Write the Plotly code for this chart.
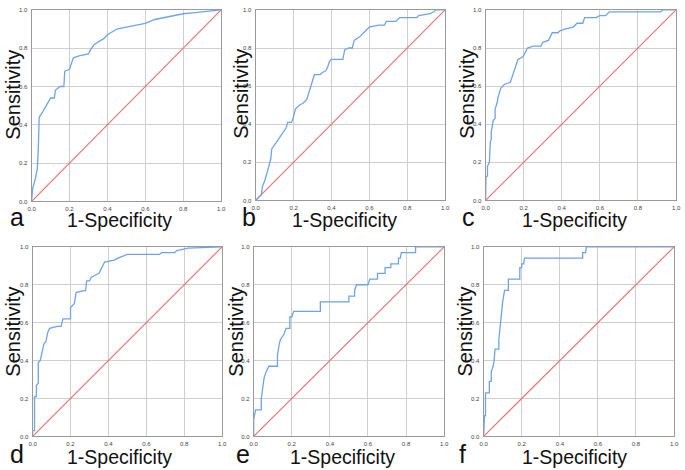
import plotly.graph_objects as go

# ROC curve data (1-Specificity, Sensitivity)
a_fpr = [0, 0.005, 0.02, 0.03, 0.035, 0.04, 0.04, 0.06, 0.09, 0.10, 0.12, 0.125, 0.15, 0.17, 0.175, 0.20, 0.22, 0.25, 0.30, 0.31, 0.33, 0.36, 0.38, 0.40, 0.45, 0.50, 0.55, 0.60, 0.65, 0.70, 0.75, 0.80, 0.85, 0.90, 0.95, 1.0]
a_tpr = [0, 0.065, 0.12, 0.17, 0.27, 0.37, 0.44, 0.47, 0.52, 0.54, 0.54, 0.58, 0.60, 0.60, 0.68, 0.69, 0.75, 0.76, 0.77, 0.79, 0.82, 0.84, 0.85, 0.87, 0.90, 0.91, 0.92, 0.93, 0.95, 0.96, 0.97, 0.98, 0.985, 0.99, 0.995, 1.0]

b_fpr = [0, 0.03, 0.035, 0.05, 0.07, 0.08, 0.085, 0.10, 0.12, 0.14, 0.16, 0.17, 0.19, 0.20, 0.21, 0.23, 0.25, 0.27, 0.28, 0.29, 0.30, 0.31, 0.34, 0.35, 0.37, 0.38, 0.39, 0.40, 0.46, 0.47, 0.49, 0.51, 0.52, 0.55, 0.57, 0.59, 0.60, 0.65, 0.68, 0.69, 0.74, 0.76, 0.85, 0.86, 0.92, 0.94, 0.95, 1.0]
b_tpr = [0, 0.03, 0.07, 0.11, 0.18, 0.22, 0.27, 0.29, 0.32, 0.35, 0.38, 0.41, 0.41, 0.44, 0.48, 0.50, 0.51, 0.53, 0.56, 0.60, 0.63, 0.66, 0.66, 0.67, 0.68, 0.70, 0.73, 0.74, 0.74, 0.79, 0.80, 0.80, 0.84, 0.86, 0.88, 0.90, 0.91, 0.92, 0.92, 0.94, 0.94, 0.96, 0.96, 0.97, 0.98, 0.99, 1.0, 1.0]

c_fpr = [0, 0.002, 0.01, 0.01, 0.02, 0.025, 0.03, 0.03, 0.04, 0.05, 0.05, 0.06, 0.065, 0.07, 0.08, 0.09, 0.10, 0.13, 0.14, 0.15, 0.16, 0.17, 0.19, 0.20, 0.21, 0.22, 0.25, 0.29, 0.30, 0.33, 0.34, 0.35, 0.38, 0.39, 0.42, 0.46, 0.48, 0.51, 0.52, 0.58, 0.60, 0.63, 0.65, 0.92, 0.93, 1.0]
c_tpr = [0, 0.12, 0.13, 0.18, 0.20, 0.31, 0.32, 0.36, 0.42, 0.43, 0.48, 0.51, 0.54, 0.56, 0.59, 0.60, 0.61, 0.62, 0.65, 0.69, 0.71, 0.74, 0.75, 0.76, 0.78, 0.80, 0.81, 0.81, 0.83, 0.84, 0.86, 0.88, 0.88, 0.89, 0.90, 0.91, 0.93, 0.93, 0.96, 0.96, 0.97, 0.97, 0.99, 0.99, 1.0, 1.0]

d_fpr = [0, 0.0, 0.01, 0.01, 0.02, 0.02, 0.03, 0.03, 0.04, 0.05, 0.06, 0.07, 0.08, 0.09, 0.13, 0.15, 0.16, 0.20, 0.20, 0.22, 0.23, 0.28, 0.285, 0.30, 0.31, 0.33, 0.35, 0.36, 0.37, 0.38, 0.43, 0.45, 0.50, 0.67, 0.68, 0.75, 0.76, 0.80, 0.82, 1.0]
d_tpr = [0, 0.03, 0.03, 0.21, 0.21, 0.27, 0.28, 0.39, 0.40, 0.45, 0.49, 0.50, 0.55, 0.57, 0.58, 0.58, 0.62, 0.62, 0.68, 0.70, 0.76, 0.77, 0.82, 0.82, 0.84, 0.85, 0.86, 0.88, 0.90, 0.92, 0.93, 0.94, 0.96, 0.96, 0.97, 0.97, 0.98, 0.99, 0.993, 1.0]

e_fpr = [0, 0.0, 0.01, 0.04, 0.04, 0.045, 0.05, 0.055, 0.065, 0.08, 0.125, 0.125, 0.135, 0.14, 0.16, 0.17, 0.19, 0.19, 0.20, 0.21, 0.35, 0.35, 0.50, 0.50, 0.53, 0.53, 0.54, 0.60, 0.61, 0.65, 0.65, 0.69, 0.69, 0.72, 0.72, 0.76, 0.76, 0.77, 0.775, 0.85, 0.85, 1.0]
e_tpr = [0, 0.09, 0.14, 0.14, 0.20, 0.23, 0.26, 0.31, 0.34, 0.37, 0.37, 0.43, 0.49, 0.51, 0.54, 0.57, 0.57, 0.63, 0.63, 0.66, 0.66, 0.71, 0.71, 0.74, 0.74, 0.77, 0.80, 0.80, 0.83, 0.83, 0.86, 0.86, 0.89, 0.89, 0.91, 0.91, 0.94, 0.94, 0.97, 0.97, 1.0, 1.0]

f_fpr = [0, 0.005, 0.01, 0.01, 0.03, 0.03, 0.04, 0.04, 0.05, 0.055, 0.06, 0.08, 0.08, 0.085, 0.09, 0.095, 0.10, 0.11, 0.13, 0.13, 0.19, 0.19, 0.20, 0.20, 0.21, 0.215, 0.52, 0.52, 0.535, 0.54, 1.0]
f_tpr = [0, 0.11, 0.11, 0.23, 0.23, 0.29, 0.29, 0.34, 0.37, 0.40, 0.46, 0.46, 0.51, 0.57, 0.63, 0.69, 0.71, 0.77, 0.77, 0.83, 0.83, 0.89, 0.89, 0.91, 0.91, 0.94, 0.94, 0.97, 0.97, 1.0, 1.0]

panel_letters = ["a", "b", "c", "d", "e", "f"]
curves = [(a_fpr, a_tpr), (b_fpr, b_tpr), (c_fpr, c_tpr), (d_fpr, d_tpr), (e_fpr, e_tpr), (f_fpr, f_tpr)]
ref_line = [0, 1]
tick_vals = [0, 0.2, 0.4, 0.6, 0.8, 1.0]
tick_text = ["0.0", "0.2", "0.4", "0.6", "0.8", "1.0"]

W, H = 685, 470
# plot-area pixel boxes: (left, right, top, bottom)
boxes = [(28, 220, 7, 201), (255, 447, 7, 200), (488, 681, 7, 200),
         (29, 221, 247, 439), (253, 446, 247, 439), (486, 679, 247, 439)]
sens_pos = [(9, 93), (240, 92), (469, 92), (9, 333), (235, 333), (467, 333)]
spec_pos = [(117, 220), (345, 220), (578, 220), (117, 460), (343, 460), (578, 460)]
letter_pos = [(13, 217), (248, 217), (471, 217), (13, 457), (242, 457), (465, 457)]

BLUE = "#6fa3e8"
RED = "#e8706f"
GRID = "#cfcfcf"
FONT = "Liberation Sans, Arial, sans-serif"

fig = go.Figure()
layout = dict(width=W, height=H, margin=dict(l=0, r=0, t=0, b=0),
              paper_bgcolor="white", plot_bgcolor="white", showlegend=False,
              font=dict(family=FONT, color="#222"))
annotations = []
for i, ((fx, fy), (l, r, t, b)) in enumerate(zip(curves, boxes)):
    n = "" if i == 0 else str(i + 1)
    xa, ya = "x" + n, "y" + n
    fig.add_trace(go.Scatter(x=ref_line, y=ref_line, mode="lines", xaxis=xa, yaxis=ya,
                             line=dict(color=RED, width=1.1), hoverinfo="skip"))
    fig.add_trace(go.Scatter(x=fx, y=fy, mode="lines", xaxis=xa, yaxis=ya,
                             line=dict(color=BLUE, width=1.3)))
    axcommon = dict(range=[0, 1], tickvals=tick_vals, ticktext=tick_text, showgrid=True,
                    gridcolor=GRID, gridwidth=1, zeroline=False, showline=True,
                    linecolor="#9a9a9a", linewidth=1, mirror=True, ticks="",
                    tickfont=dict(size=6, color="#444", family=FONT), fixedrange=True)
    layout["xaxis" + n] = dict(axcommon, domain=[l / W, r / W], anchor=ya, ticklabelstandoff=1)
    layout["yaxis" + n] = dict(axcommon, domain=[1 - b / H, 1 - t / H], anchor=xa, ticklabelstandoff=2)
    sx, sy = sens_pos[i]
    annotations.append(dict(text="Sensitivity", x=sx / W, y=1 - sy / H, xref="paper", yref="paper",
                            showarrow=False, textangle=-90, font=dict(size=20, color="#111", family=FONT),
                            xanchor="center", yanchor="middle"))
    px, py = spec_pos[i]
    annotations.append(dict(text="1-Specificity", x=px / W, y=1 - py / H, xref="paper", yref="paper",
                            showarrow=False, font=dict(size=19.5, color="#111", family=FONT),
                            xanchor="center", yanchor="middle"))
    lx, ly = letter_pos[i]
    annotations.append(dict(text=panel_letters[i], x=lx / W, y=1 - ly / H, xref="paper", yref="paper",
                            showarrow=False, font=dict(size=25, color="#111", family=FONT),
                            xanchor="center", yanchor="middle"))
layout["annotations"] = annotations
fig.update_layout(**layout)
fig.write_html("out.html", config={"displayModeBar": False},
               post_script="document.body.style.margin='0px';document.body.style.overflow='hidden';")
